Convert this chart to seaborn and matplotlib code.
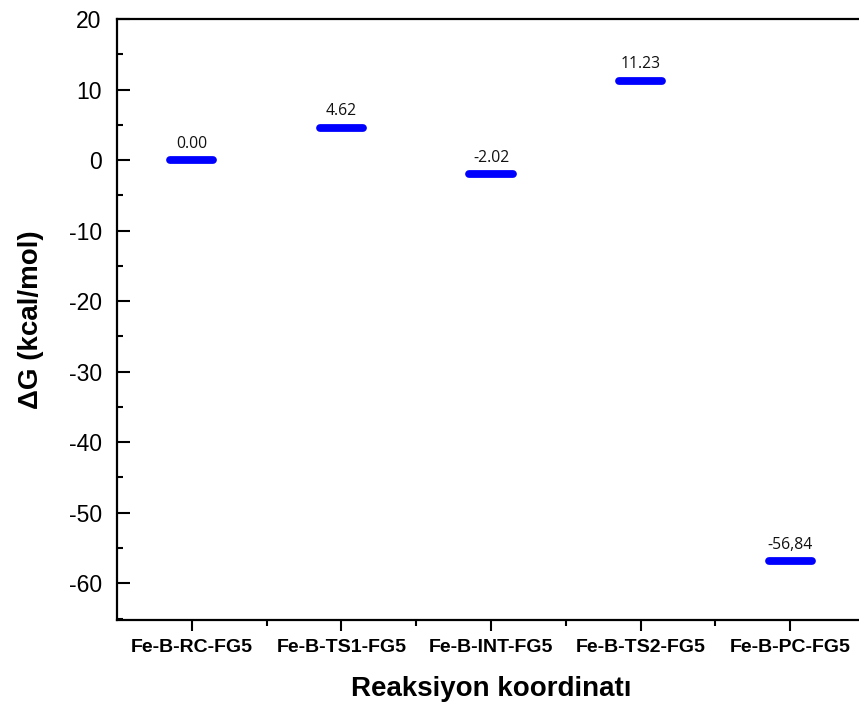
import matplotlib
matplotlib.use('Agg')
import matplotlib.pyplot as plt
from matplotlib.ticker import MultipleLocator, FixedLocator
import seaborn as sns

# ── data ──────────────────────────────────────────────────────────────────────
states = ['Fe-B-RC-FG5', 'Fe-B-TS1-FG5', 'Fe-B-INT-FG5', 'Fe-B-TS2-FG5', 'Fe-B-PC-FG5']
dG = [0.00, 4.62, -2.02, 11.23, -56.84]
dG_labels = ['0.00', '4.62', '-2.02', '11.23', '-56,84']

sns.set_theme(style='ticks')
plt.rcParams['font.family'] = ['Liberation Sans', 'DejaVu Sans']
plt.rcParams['axes.unicode_minus'] = False
for k in ['text.color', 'axes.labelcolor', 'xtick.color', 'ytick.color']:
    plt.rcParams[k] = 'black'

fig = plt.figure(figsize=(8.59, 7.15), dpi=100)
ax = fig.add_axes([0.1362, 0.1329, 0.8708, 0.8405])

pos = list(range(1, len(states) + 1))
half = 0.145
ax.hlines(dG, [p - half for p in pos], [p + half for p in pos],
          colors='#0000ff', linewidth=5.6, capstyle='round', zorder=3)

for p, v, lab in zip(pos, dG, dG_labels):
    ax.annotate(lab, (p, v), xytext=(0, 9), textcoords='offset points',
                ha='center', va='baseline', fontsize=11.3,
                family=['Open Sans', 'DejaVu Sans'], color='#111111')

ax.set_xlim(0.5, 5.5)
ax.set_ylim(-65.2, 20)

ax.xaxis.set_major_locator(FixedLocator(pos))
ax.xaxis.set_minor_locator(FixedLocator([p + 0.5 for p in pos[:-1]]))
ax.set_xticklabels(states, fontsize=14, fontweight='bold')
ax.yaxis.set_major_locator(MultipleLocator(10))
ax.yaxis.set_minor_locator(MultipleLocator(5))

ax.tick_params(axis='y', which='major', direction='in', length=9, width=1.5,
               labelsize=16.5, pad=11)
ax.tick_params(axis='y', which='minor', direction='in', length=4.5, width=1.5)
ax.tick_params(axis='x', which='major', direction='out', length=8, width=1.5, pad=6)
ax.tick_params(axis='x', which='minor', direction='out', length=4, width=1.5)

for s in ax.spines.values():
    s.set_linewidth(1.6)
    s.set_color('black')

ax.set_xlabel('Reaksiyon koordinatı', fontsize=20, fontweight='bold', labelpad=14)
ax.set_ylabel('ΔG (kcal/mol)', fontsize=20, fontweight='bold', labelpad=18)

fig.savefig('out.png', dpi=100)
